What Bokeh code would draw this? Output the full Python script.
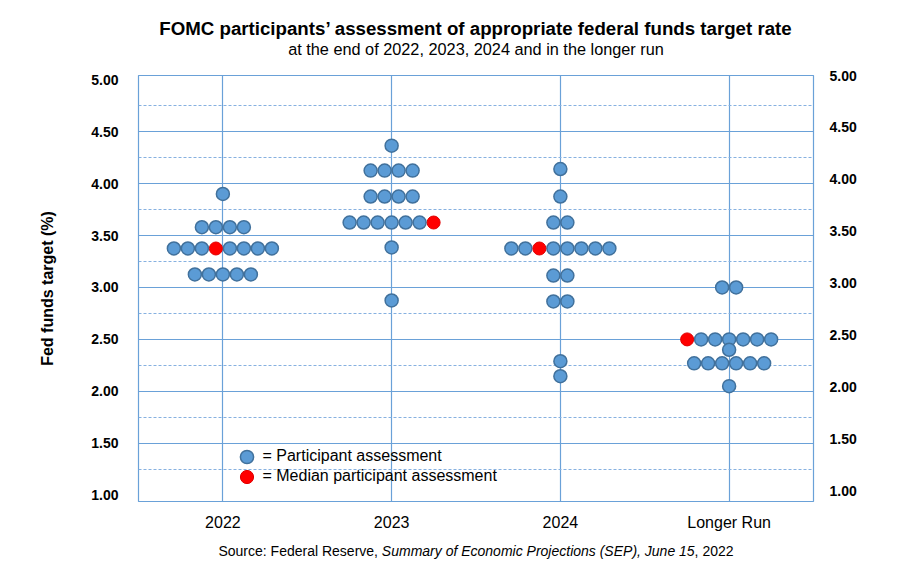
import math
from bokeh.plotting import figure
from bokeh.layouts import column
from bokeh.models import (Range1d, LinearAxis, FixedTicker, NumeralTickFormatter,
                          Legend, LegendItem, ColumnDataSource)
from bokeh.core.properties import value
from bokeh.embed import file_html
from bokeh.resources import INLINE

# ---------------- data ----------------
categories = ["2022", "2023", "2024", "Longer Run"]

levels_2022 = [3.90, 3.58, 3.375, 3.125]
counts_2022 = [1, 4, 8, 5]

levels_2023 = [4.365, 4.125, 3.875, 3.625, 3.385, 2.875]
counts_2023 = [1, 4, 4, 7, 1, 1]

levels_2024 = [4.14, 3.875, 3.625, 3.375, 3.115, 2.865, 2.29, 2.146]
counts_2024 = [1, 1, 2, 8, 2, 2, 1, 1]

levels_longer = [3.0, 2.5, 2.40, 2.27, 2.05]
counts_longer = [2, 7, 1, 6, 1]

median_levels = [3.375, 3.625, 3.375, 2.5]
median_slots = [3, 6, 2, 0]   # which dot of the median row is the median

y_ticks = [1.0, 1.5, 2.0, 2.5, 3.0, 3.5, 4.0, 4.5, 5.0]

title_text = "FOMC participants\u2019 assessment of appropriate federal funds target rate"
subtitle_text = "at the end of 2022, 2023, 2024 and in the longer run"
y_title = "Fed funds target (%)"
legend_labels = ["= Participant assessment", "= Median participant assessment"]
source_parts = ["Source: Federal Reserve, ",
                "Summary of Economic Projections (SEP), June 15",
                ", 2022"]
source_styles = ["normal", "italic", "normal"]

# ---------------- layout constants ----------------
W = 921
HT, H1, H2 = 62, 473, 48  # title strip / main chart / source strip heights
BL, BR, BT, BB = 138, 108, 13, 34
FW = W - BL - BR          # frame width
FH = H1 - BT - BB         # frame height
X0, X1 = -0.5, 3.5
Y0, Y1 = 0.94, 5.04
DOT_PX = 14               # horizontal spacing of dots in pixels
step = DOT_PX * (X1 - X0) / FW

FONT = "Liberation Sans"
BLUE = "#5b9bd5"
EDGE = "#41719c"
GRID = "#6aa1d8"
GRID_MINOR = "#86b1e0"

all_levels = [levels_2022, levels_2023, levels_2024, levels_longer]
all_counts = [counts_2022, counts_2023, counts_2024, counts_longer]

bx, by, rx, ry = [], [], [], []
for ci, (lv, ct) in enumerate(zip(all_levels, all_counts)):
    for level, n in zip(lv, ct):
        for k in range(n):
            x = ci + (k - (n - 1) / 2.0) * step
            if level == median_levels[ci] and k == median_slots[ci]:
                rx.append(x); ry.append(level)
            else:
                bx.append(x); by.append(level)


def strip(height):
    """A text-only figure whose frame lines up with the chart frame (pixel coordinates)."""
    f = figure(width=W, height=height, output_backend="svg", toolbar_location=None,
               x_range=Range1d(BL, W - BR), y_range=Range1d(height, 0),
               x_axis_location=None, y_axis_location=None,
               min_border_left=BL, min_border_right=BR, min_border_top=0, min_border_bottom=0)
    f.grid.visible = False
    f.outline_line_color = None
    f.background_fill_color = "white"
    f.border_fill_color = "white"
    return f


# ---------------- title strip ----------------
pt = strip(HT)
cx = BL + FW / 2
pt.text(x=[cx], y=[28], text=[title_text], text_font=value(FONT),
        text_font_size="18.7px", text_font_style="bold",
        text_align="center", text_baseline="middle", text_color="black")
pt.text(x=[cx], y=[48], text=[subtitle_text], text_font=value(FONT),
        text_font_size="16.3px", text_font_style="normal",
        text_align="center", text_baseline="middle", text_color="black")

# ---------------- main chart ----------------
p = figure(width=W, height=H1, output_backend="svg", toolbar_location=None,
           x_range=Range1d(X0, X1), y_range=Range1d(Y0, Y1),
           min_border_left=BL, min_border_right=BR, min_border_top=BT, min_border_bottom=BB)
p.background_fill_color = "white"
p.border_fill_color = "white"
p.outline_line_color = GRID
p.outline_line_width = 1.2

# grids
p.xgrid.ticker = FixedTicker(ticks=list(range(len(categories))))
p.xgrid.grid_line_color = GRID
p.xgrid.grid_line_width = 1.2
p.ygrid.ticker = FixedTicker(ticks=y_ticks[1:-1],
                             minor_ticks=[t + 0.25 for t in y_ticks[:-1]])
p.ygrid.grid_line_color = GRID
p.ygrid.grid_line_width = 1.2
p.ygrid.minor_grid_line_color = GRID_MINOR
p.ygrid.minor_grid_line_dash = "3 2"
p.ygrid.minor_grid_line_width = 1
p.ygrid.minor_grid_line_alpha = 1.0

# x axis
p.xaxis.ticker = FixedTicker(ticks=list(range(len(categories))))
p.xaxis.major_label_overrides = {i: c for i, c in enumerate(categories)}
p.xaxis.axis_line_color = None
p.xaxis.major_tick_line_color = None
p.xaxis.minor_tick_line_color = None
p.xaxis.major_tick_out = 0
p.xaxis.major_label_text_font = FONT
p.xaxis.major_label_text_font_size = "16px"
p.xaxis.major_label_text_color = "black"
p.xaxis.major_label_standoff = 12


def style_y(ax, standoff):
    ax.ticker = FixedTicker(ticks=y_ticks)
    ax.formatter = NumeralTickFormatter(format="0.00")
    ax.axis_line_color = None
    ax.major_tick_line_color = None
    ax.minor_tick_line_color = None
    ax.major_tick_out = 0
    ax.minor_tick_out = 0
    ax.major_label_text_font = FONT
    ax.major_label_text_font_size = "14px"
    ax.major_label_text_font_style = "bold"
    ax.major_label_text_color = "black"
    ax.major_label_standoff = standoff


yl = p.yaxis[0]
style_y(yl, 20)
yl.axis_label = y_title
yl.axis_label_text_font = FONT
yl.axis_label_text_font_size = "16px"
yl.axis_label_text_font_style = "bold"
yl.axis_label_text_color = "black"
yl.axis_label_standoff = 32

p.extra_y_ranges = {"right": Range1d(0.9, 5.0)}
rax = LinearAxis(y_range_name="right")
style_y(rax, 16)
p.add_layout(rax, "right")

# dots
src_b = ColumnDataSource(dict(x=bx, y=by))
src_r = ColumnDataSource(dict(x=rx, y=ry))
r_b = p.scatter("x", "y", source=src_b, size=13, fill_color=BLUE,
                line_color=EDGE, line_width=1.5)
r_r = p.scatter("x", "y", source=src_r, size=13, fill_color="#ff0000",
                line_color="#e00000", line_width=1)

# legend: one Legend per entry so the key dots keep their full size
GB = 33
for lbl, rend, ybot in [(legend_labels[0], r_b, 45 - GB / 2),
                        (legend_labels[1], r_r, 25 - GB / 2)]:
    lg = Legend(items=[LegendItem(label=lbl, renderers=[rend])],
                location=(108 - GB / 2, ybot), padding=0, margin=0, spacing=0,
                glyph_width=GB, glyph_height=GB, label_height=GB,
                label_standoff=0, border_line_color=None,
                background_fill_alpha=0)
    lg.label_text_font = FONT
    lg.label_text_font_size = "16px"
    lg.label_text_color = "black"
    p.add_layout(lg)

# ---------------- source strip ----------------
# Arial-compatible advance widths (per 1000 em) to lay out the mixed-style line
AW = {' ': 278, ',': 278, ':': 278, '(': 333, ')': 333, '0': 556, '1': 556, '2': 556,
      '5': 556, 'C': 722, 'E': 667, 'F': 611, 'J': 500, 'P': 667, 'R': 722, 'S': 667,
      'a': 556, 'c': 500, 'd': 556, 'e': 556, 'f': 278, 'i': 222, 'j': 222, 'l': 222,
      'm': 833, 'n': 556, 'o': 556, 'r': 333, 's': 500, 't': 278, 'u': 556, 'v': 500,
      'y': 500}
SRC_SIZE = 14
widths = [sum(AW.get(ch, 556) for ch in s) * SRC_SIZE / 1000.0 for s in source_parts]

p2 = strip(H2)
sx = BL + (FW - sum(widths)) / 2
for s, w, st in zip(source_parts, widths, source_styles):
    p2.text(x=[sx], y=[15], text=[s], text_font=value(FONT),
            text_font_size=f"{SRC_SIZE}px", text_font_style=st,
            text_align="left", text_baseline="middle", text_color="black")
    sx += w

layout = column(pt, p, p2, spacing=0)
open("out.html", "w").write(file_html(layout, INLINE))
